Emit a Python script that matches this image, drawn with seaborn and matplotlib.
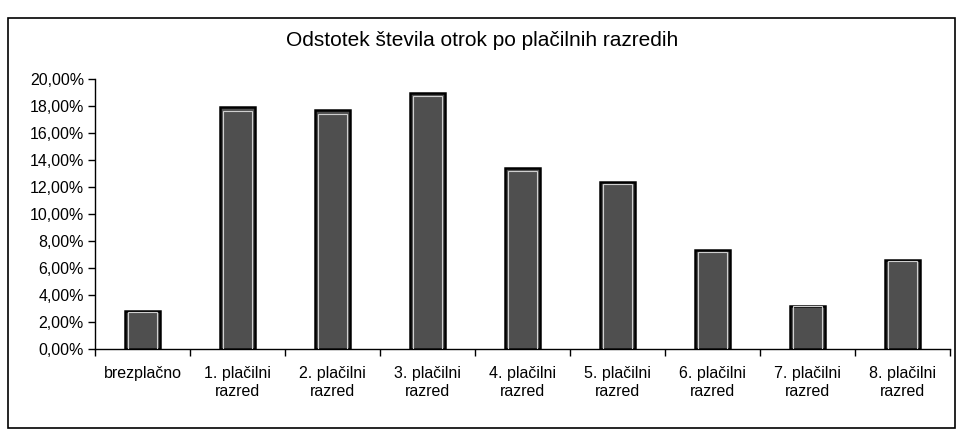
import matplotlib
matplotlib.use("Agg")
import matplotlib.pyplot as plt
import seaborn as sns
import pandas as pd
import numpy as np
from matplotlib.patches import Rectangle
from matplotlib.ticker import FuncFormatter, FixedLocator

categories = ["brezplačno", "1. plačilni\nrazred", "2. plačilni\nrazred",
              "3. plačilni\nrazred", "4. plačilni\nrazred", "5. plačilni\nrazred",
              "6. plačilni\nrazred", "7. plačilni\nrazred", "8. plačilni\nrazred"]
shares = [2.8, 17.9, 17.7, 19.0, 13.4, 12.4, 7.3, 3.2, 6.6]

df = pd.DataFrame({"razred": categories, "delez": shares})

sns.set_style("white")
plt.rcParams["font.family"] = ["Liberation Sans", "DejaVu Sans"]
plt.rcParams["text.color"] = "black"
plt.rcParams["xtick.color"] = "black"
plt.rcParams["ytick.color"] = "black"

fig = plt.figure(figsize=(9.63, 4.32), dpi=100)
ax = fig.add_axes([95 / 963, 1 - 349 / 432, 855 / 963, 270 / 432])

sns.barplot(data=df, x="razred", y="delez", ax=ax, width=0.37,
            color="#4f4f4f", saturation=1, edgecolor="black", linewidth=1.8)

# thin light inner line like the original fill pattern
for p in ax.patches:
    x, y = p.get_x(), p.get_y()
    w, h = p.get_width(), p.get_height()
    ax.add_patch(Rectangle((x + w * 0.1, y), w * 0.8, h * 0.985, fill=False,
                           edgecolor="#cfcfcf", linewidth=0.8, zorder=3))

ax.set_xlim(-0.5, len(categories) - 0.5)
ax.set_ylim(0, 20)
ax.set_yticks(np.arange(0, 21, 2))
ax.yaxis.set_major_formatter(FuncFormatter(lambda v, _: f"{v:.2f}%".replace(".", ",")))
ax.set_xlabel("")
ax.set_ylabel("")

ax.xaxis.set_minor_locator(FixedLocator(np.arange(-0.5, len(categories), 1)))
ax.tick_params(axis="x", which="major", length=0, pad=12, labelsize=11.5,
               labelcolor="black")
ax.tick_params(axis="x", which="minor", length=5, width=1, direction="out",
               bottom=True, color="black")
ax.tick_params(axis="y", length=5, width=1, direction="out", left=True,
               labelsize=11.5, color="black", labelcolor="black", pad=3)
for lbl in ax.get_xticklabels():
    lbl.set_linespacing(1.25)

for side in ["top", "right"]:
    ax.spines[side].set_visible(False)
for side in ["left", "bottom"]:
    ax.spines[side].set_color("black")
    ax.spines[side].set_linewidth(1)

fig.text(482 / 963, 1 - 40 / 432, "Odstotek števila otrok po plačilnih razredih",
         fontsize=15, ha="center", va="center", color="black")

fig.patches.append(Rectangle((8 / 963, 4 / 432), 947 / 963, 410 / 432,
                             transform=fig.transFigure, fill=False,
                             edgecolor="black", linewidth=1.2))

fig.savefig("out.png", dpi=100)
